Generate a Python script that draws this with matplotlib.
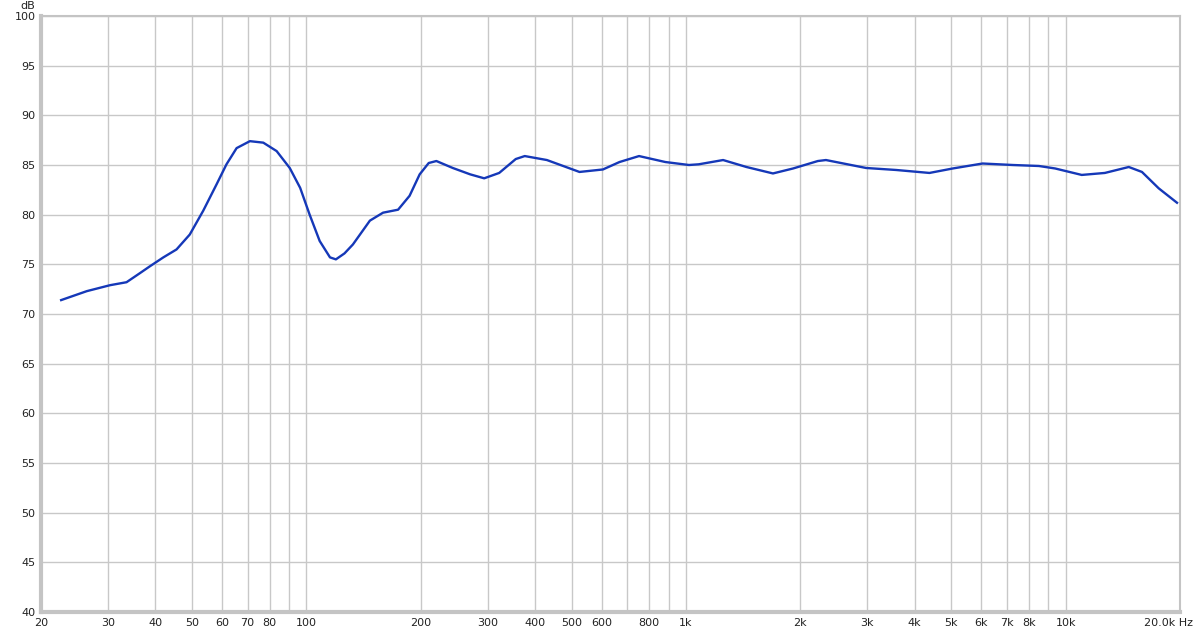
import matplotlib
matplotlib.use("Agg")
import matplotlib.pyplot as plt

# frequency response (Hz, dB)
freq = [22.6, 26.4, 30.4, 33.6, 36.4, 38.7, 42.0, 45.5, 49.3, 53.5, 58.0, 61.6,
        65.5, 71, 77, 83.5, 90.4, 96.3, 102, 108.4, 115.4, 119.6, 126, 132.6,
        147, 159.2, 174.4, 187, 198.8, 210, 220, 243, 270, 294, 322, 356, 376,
        430, 524, 604, 668, 752, 882, 1018, 1080, 1252, 1442, 1694, 1914, 2224,
        2336, 2980, 3572, 4376, 5040, 6040, 7260, 8500, 9380, 11020, 12680,
        14660, 15880, 17580, 19640]
spl = [71.4, 72.3, 72.9, 73.2, 74.1, 74.8, 75.7, 76.5, 78.0, 80.4, 83.05, 85.07,
       86.7, 87.4, 87.25, 86.4, 84.7, 82.7, 80.0, 77.35, 75.7, 75.5, 76.1, 77.0,
       79.4, 80.2, 80.5, 81.9, 84.06, 85.2, 85.4, 84.7, 84.06, 83.66, 84.2, 85.6, 85.9,
       85.5, 84.3, 84.55, 85.3, 85.9, 85.3, 85.0, 85.07, 85.5, 84.8, 84.15, 84.65, 85.4,
       85.5, 84.7, 84.5, 84.2, 84.65, 85.15, 85.0, 84.9, 84.65, 84.0, 84.2,
       84.8, 84.3, 82.65, 81.2]

xticks = [20, 30, 40, 50, 60, 70, 80, 100, 200, 300, 400, 500, 600, 800,
          1000, 2000, 3000, 4000, 5000, 6000, 7000, 8000, 10000]
xlabels = ["20", "30", "40", "50", "60", "70", "80", "100", "200", "300", "400",
           "500", "600", "800", "1k", "2k", "3k", "4k", "5k", "6k", "7k", "8k", "10k"]
yticks = list(range(40, 101, 5))

fig = plt.figure(figsize=(12, 6.33), dpi=100)
ax = fig.add_axes([41 / 1200, 1 - 612 / 633, (1180 - 41) / 1200, (612 - 16) / 633])

ax.set_xscale("log")
ax.set_xlim(20, 20000)
ax.set_ylim(40, 100)

# grid: every 1-2-3..9 step in each decade, every 5 dB
grid_f = [m * 10 ** d for d in range(1, 5) for m in range(1, 10) if 20 <= m * 10 ** d <= 20000]
for g in grid_f:
    ax.axvline(g, color="#c8c8c8", lw=1.0, zorder=0)
for g in yticks:
    ax.axhline(g, color="#c8c8c8", lw=1.0, zorder=0)

ax.plot(freq, spl, color="#1538b8", lw=1.7, solid_joinstyle="round")

ax.xaxis.set_minor_locator(matplotlib.ticker.NullLocator())
ax.set_xticks(xticks)
ax.set_xticklabels(xlabels)
ax.set_yticks(yticks)
ax.tick_params(length=0, labelsize=8, colors="#222222", pad=4)

for s in ax.spines.values():
    s.set_color("#c4c4c4")
    s.set_linewidth(1.5)
ax.spines["left"].set_linewidth(3)
ax.spines["bottom"].set_linewidth(3)

ax.annotate("20.0k Hz", xy=(1.0, 0), xycoords="axes fraction",
            xytext=(13, -6), textcoords="offset pixels",
            ha="right", va="top", fontsize=8, color="#222222")
ax.annotate("dB", xy=(0, 1), xycoords="axes fraction",
            xytext=(-6, 5), textcoords="offset pixels",
            ha="right", va="bottom", fontsize=8, color="#222222")

fig.savefig("out.png", dpi=100, facecolor="white")
